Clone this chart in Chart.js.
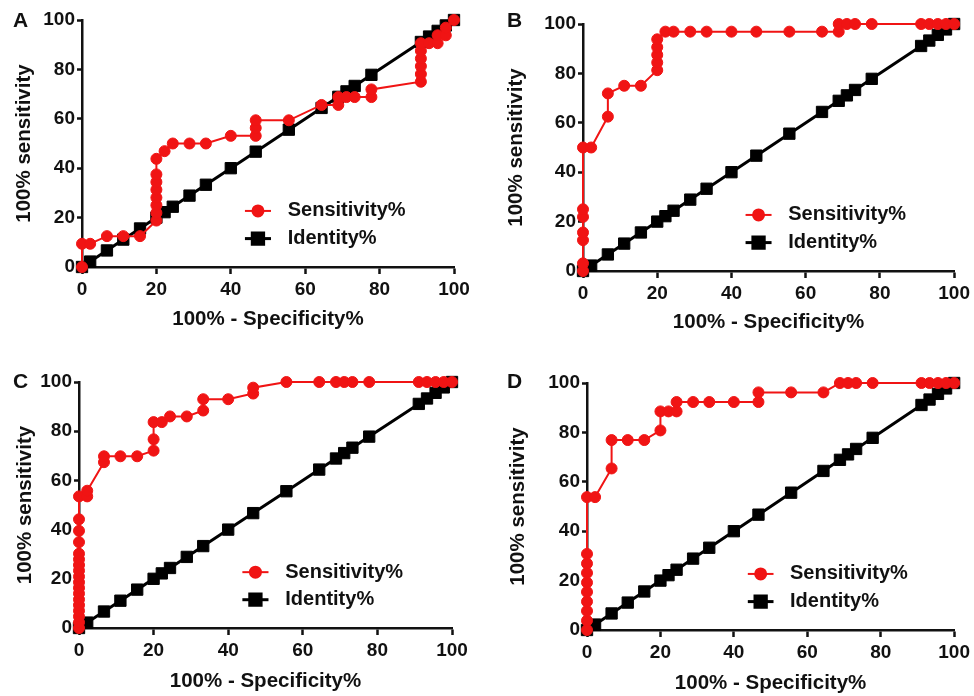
<!DOCTYPE html>
<html>
<head>
<meta charset="utf-8">
<script src="https://cdn.jsdelivr.net/npm/chart.js@4/dist/chart.umd.min.js"></script>
<style>
  html, body { margin: 0; padding: 0; background: #fff; }
  #wrap { position: relative; width: 974px; height: 696px; overflow: hidden; }
  .panel { position: absolute; }
</style>
</head>
<body>
<div id="wrap">
  <div class="panel" style="left:0;top:0;width:487px;height:340px"><canvas id="chartA"></canvas></div>
  <div class="panel" style="left:487px;top:0;width:487px;height:340px"><canvas id="chartB"></canvas></div>
  <div class="panel" style="left:0;top:340px;width:487px;height:356px"><canvas id="chartC"></canvas></div>
  <div class="panel" style="left:487px;top:340px;width:487px;height:356px"><canvas id="chartD"></canvas></div>
</div>
<script>
// identity line (same for x and y)
const identityPct = [0, 2.2, 6.7, 11.1, 15.6, 20, 22.2, 24.4, 28.9, 33.3, 40, 46.7, 55.6, 64.4, 68.9, 71.1, 73.3, 77.8, 91.1, 93.3, 95.6, 97.8, 100];

// panel A
const specA = [0, 0, 2.2, 6.7, 11.1, 15.6, 20, 20, 20, 20, 20, 20, 20, 20, 22.2, 24.4, 28.9, 33.3, 40, 46.7, 46.7, 46.7, 55.6, 64.4, 68.9, 68.9, 71.1, 73.3, 77.8, 77.8, 91.1, 91.1, 91.1, 91.1, 91.1, 91.1, 93.3, 95.6, 95.6, 97.8, 97.8, 100];
const sensA = [0, 9.4, 9.4, 12.5, 12.5, 12.5, 18.8, 21.9, 25, 28.1, 31.3, 34.4, 37.5, 43.8, 46.9, 50, 50, 50, 53.1, 53.1, 56.3, 59.4, 59.4, 65.6, 65.6, 68.8, 68.8, 68.8, 68.8, 71.9, 75, 78.1, 81.3, 84.4, 87.5, 90.6, 90.6, 90.6, 93.8, 93.8, 96.9, 100];

// panel B
const specB = [0, 0, 0, 0, 0, 0, 0, 2.2, 6.7, 6.7, 11.1, 15.6, 20, 20, 20, 20, 20, 22.2, 24.4, 28.9, 33.3, 40, 46.7, 55.6, 64.4, 68.9, 68.9, 71.1, 73.3, 77.8, 91.1, 93.3, 95.6, 97.8, 100];
const sensB = [0, 3.1, 12.5, 15.6, 21.9, 25, 50, 50, 62.5, 71.9, 75, 75, 81.3, 84.4, 87.5, 90.6, 93.8, 96.9, 96.9, 96.9, 96.9, 96.9, 96.9, 96.9, 96.9, 96.9, 100, 100, 100, 100, 100, 100, 100, 100, 100];

// panel C
const specC = [0, 0, 0, 0, 0, 0, 0, 0, 0, 0, 0, 0, 0, 0, 0, 0, 0, 0, 2.2, 2.2, 6.7, 6.7, 11.1, 15.6, 20, 20, 20, 22.2, 24.4, 28.9, 33.3, 33.3, 40, 46.7, 46.7, 55.6, 64.4, 68.9, 71.1, 73.3, 77.8, 91.1, 93.3, 95.6, 97.8, 100];
const sensC = [0, 2.3, 4.7, 7, 9.3, 11.6, 14, 16.3, 18.6, 20.9, 23.3, 25.6, 27.9, 30.2, 34.9, 39.5, 44.2, 53.5, 53.5, 55.8, 67.4, 69.8, 69.8, 69.8, 72.1, 76.7, 83.7, 83.7, 86, 86, 88.4, 93, 93, 95.3, 97.7, 100, 100, 100, 100, 100, 100, 100, 100, 100, 100, 100];

// panel D
const specD = [0, 0, 0, 0, 0, 0, 0, 0, 0, 0, 2.2, 6.7, 6.7, 11.1, 15.6, 20, 20, 22.2, 24.4, 24.4, 28.9, 33.3, 40, 46.7, 46.7, 55.6, 64.4, 68.9, 71.1, 73.3, 77.8, 91.1, 93.3, 95.6, 97.8, 100];
const sensD = [0, 3.8, 7.7, 11.5, 15.4, 19.2, 23.1, 26.9, 30.8, 53.8, 53.8, 65.4, 76.9, 76.9, 76.9, 80.8, 88.5, 88.5, 88.5, 92.3, 92.3, 92.3, 92.3, 92.3, 96.2, 96.2, 96.2, 100, 100, 100, 100, 100, 100, 100, 100, 100];

const axisTicks = [0, 20, 40, 60, 80, 100];
const seriesNames = ["Sensitivity%", "Identity%"];
const xTitle = "100% - Specificity%";
const yTitle = "100% sensitivity";

const FONT = "'Liberation Sans', Arial, sans-serif";
const RED = "#f01414";
const INK = "#111";

const panels = [
  { id: "chartA", tag: "A", spec: specA, sens: sensA, yW: 82, xH: 73, padT: 20, padR: 33, xtPad: 8, ytPad: 12, tagX: 13, tagY: 27 },
  { id: "chartB", tag: "B", spec: specB, sens: sensB, yW: 96, xH: 69, padT: 24, padR: 19, xtPad: 5, ytPad: 17, tagX: 20, tagY: 27 },
  { id: "chartC", tag: "C", spec: specC, sens: sensC, yW: 79, xH: 68, padT: 42, padR: 35, xtPad: 2, ytPad: 13, tagX: 13, tagY: 48 },
  { id: "chartD", tag: "D", spec: specD, sens: sensD, yW: 100, xH: 66, padT: 43, padR: 14, xtPad: 0, ytPad: 19, tagX: 20, tagY: 48 }
];

// legend drawn inside the plot, plus the panel letter
const insideLegend = {
  id: "insideLegend",
  afterDraw(chart, args, opts) {
    const { ctx, chartArea: a } = chart;
    const w = a.right - a.left, h = a.bottom - a.top;
    ctx.save();
    chart.data.datasets.forEach((ds, i) => {
      const y = a.bottom - h * (i === 0 ? 0.227 : 0.115);
      const x0 = a.left + w * 0.438, x1 = a.left + w * 0.508;
      ctx.strokeStyle = ds.borderColor;
      ctx.lineWidth = ds.borderWidth;
      ctx.beginPath(); ctx.moveTo(x0, y); ctx.lineTo(x1, y); ctx.stroke();
      Chart.helpers.drawPoint(ctx, {
        pointStyle: ds.pointStyle, radius: ds.pointRadius, borderWidth: 1
      }, (x0 + x1) / 2, y);
      ctx.fillStyle = ds.pointBackgroundColor;
      ctx.fill();
      ctx.fillStyle = INK;
      ctx.font = "bold 20px " + FONT;
      ctx.textBaseline = "middle";
      ctx.textAlign = "left";
      ctx.fillText(ds.label, a.left + w * 0.553, y);
    });
    ctx.font = "bold 21px " + FONT;
    ctx.textBaseline = "alphabetic";
    ctx.fillText(opts.tag, opts.tagX, opts.tagY);
    ctx.restore();
  }
};

function toPoints(xs, ys) {
  return xs.map((x, i) => ({ x: x, y: ys[i] }));
}

function renderPanel(p) {
  const ctx = document.getElementById(p.id).getContext("2d");
  new Chart(ctx, {
    type: "scatter",
    data: {
      datasets: [
        {
          label: seriesNames[0],
          data: toPoints(p.spec, p.sens),
          showLine: true,
          borderColor: RED,
          backgroundColor: RED,
          pointBackgroundColor: RED,
          pointBorderColor: RED,
          borderWidth: 2,
          pointStyle: "circle",
          pointRadius: 5.5,
          pointBorderWidth: 1,
          clip: false
        },
        {
          label: seriesNames[1],
          data: toPoints(identityPct, identityPct),
          showLine: true,
          borderColor: "#000",
          backgroundColor: "#000",
          pointBackgroundColor: "#000",
          pointBorderColor: "#000",
          borderWidth: 3,
          pointStyle: "rect",
          pointRadius: 8,
          pointBorderWidth: 1,
          clip: false
        }
      ]
    },
    options: {
      responsive: true,
      maintainAspectRatio: false,
      animation: false,
      events: [],
      layout: { padding: { left: 0, top: p.padT, right: p.padR, bottom: 0 } },
      plugins: {
        legend: { display: false },
        tooltip: { enabled: false },
        insideLegend: { tag: p.tag, tagX: p.tagX, tagY: p.tagY }
      },
      scales: {
        x: {
          type: "linear",
          min: 0, max: 100,
          afterBuildTicks: (s) => { s.ticks = axisTicks.map(v => ({ value: v })); },
          afterFit: (s) => { s.height = p.xH; },
          grid: { drawOnChartArea: false, drawTicks: true, tickLength: 7, tickColor: INK, tickWidth: 2.5 },
          border: { color: INK, width: 2.5 },
          ticks: { color: INK, padding: 4, font: { family: FONT, size: 19, weight: "bold" } },
          title: {
            display: true, text: xTitle, color: INK,
            padding: { top: 0, bottom: p.xtPad },
            font: { family: FONT, size: 20.5, weight: "bold" }
          }
        },
        y: {
          type: "linear",
          min: 0, max: 100,
          afterBuildTicks: (s) => { s.ticks = axisTicks.map(v => ({ value: v })); },
          afterFit: (s) => { s.width = p.yW; },
          grid: { drawOnChartArea: false, drawTicks: true, tickLength: 5, tickColor: INK, tickWidth: 2.5 },
          border: { color: INK, width: 2.5 },
          ticks: { color: INK, padding: 2, font: { family: FONT, size: 19, weight: "bold" } },
          title: {
            display: true, text: yTitle, color: INK,
            padding: { top: p.ytPad, bottom: 0 },
            font: { family: FONT, size: 20.5, weight: "bold" }
          }
        }
      }
    },
    plugins: [insideLegend]
  });
}

panels.forEach(renderPanel);
</script>
</body>
</html>
